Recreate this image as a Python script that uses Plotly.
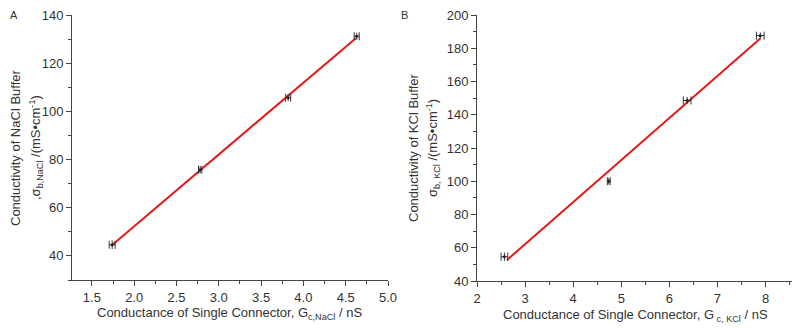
import numpy as np
import plotly.graph_objects as go

# Panel A: NaCl
a_x = [1.74, 2.78, 3.82, 4.63]
a_y = [44.6, 75.8, 105.7, 131.2]
a_xerr = [0.035, 0.02, 0.03, 0.03]
a_yerr = [1.8, 1.5, 1.5, 1.5]
a_fit_x = [1.75, 4.62]

# Panel B: KCl
b_x = [2.57, 4.74, 6.37, 7.89]
b_y = [54.6, 100.0, 148.6, 187.6]
b_xerr = [0.07, 0.03, 0.08, 0.08]
b_yerr = [2.5, 2.0, 2.0, 2.0]
b_fit_x = [2.62, 7.89]

a_fit = np.polyfit(a_x, a_y, 1)
b_fit = np.polyfit(b_x, b_y, 1)

FONT = "Liberation Sans, Arial, sans-serif"
TXT = "#333333"
AX = "#444444"
RED = "#e3191c"

fig = go.Figure()

def add_panel(x, y, xe, ye, fitx, fit, xa, ya):
    fx = np.array(fitx)
    fig.add_trace(go.Scatter(x=fx, y=np.polyval(fit, fx), mode="lines",
                             line=dict(color=RED, width=2), xaxis=xa, yaxis=ya,
                             showlegend=False, hoverinfo="skip"))
    fig.add_trace(go.Scatter(x=x, y=y, mode="markers",
                             marker=dict(color="#222222", size=3),
                             error_x=dict(type="data", array=xe, color="#333333", thickness=1, width=4),
                             error_y=dict(type="data", array=ye, color="#333333", thickness=1, width=0),
                             xaxis=xa, yaxis=ya, showlegend=False))

add_panel(a_x, a_y, a_xerr, a_yerr, a_fit_x, a_fit, "x", "y")
add_panel(b_x, b_y, b_xerr, b_yerr, b_fit_x, b_fit, "x2", "y2")

W, H = 800, 328
def px(x):
    return x / W
def py(y):
    return (H - y) / H
def dx(p0, p1):
    return [px(p0), px(p1)]
def dy(top, bottom):
    return [py(bottom), py(top)]

common = dict(showline=True, linecolor=AX, linewidth=1, ticks="outside", ticklen=5,
              tickcolor=AX, tickwidth=1, showgrid=False, zeroline=False, automargin=False,
              tickfont=dict(family=FONT, size=13, color=TXT), mirror=False)

fig.update_layout(
    width=W, height=H, margin=dict(l=0, r=0, t=0, b=0, autoexpand=False),
    plot_bgcolor="white", paper_bgcolor="white",
    font=dict(family=FONT, color=TXT),
    xaxis=dict(domain=dx(72, 388), range=[1.265, 5.0], dtick=0.5, tickformat=".1f",
               minor=dict(dtick=0.25, ticks="outside", ticklen=3, tickcolor=AX), anchor="y", **common),
    yaxis=dict(domain=dy(15, 280), range=[30, 140.01], dtick=20,
               minor=dict(dtick=10, ticks="outside", ticklen=3, tickcolor=AX), anchor="x", **common),
    xaxis2=dict(domain=dx(477, 792), range=[2, 8.55], dtick=1,
                minor=dict(dtick=0.5, ticks="outside", ticklen=3, tickcolor=AX), anchor="y2", **common),
    yaxis2=dict(domain=dy(15, 281), range=[40, 200.01], dtick=20,
                minor=dict(dtick=10, ticks="outside", ticklen=3, tickcolor=AX), anchor="x2", **common),
)

ann = [
    dict(x=14, y=15, text="A", size=11),
    dict(x=404, y=15, text="B", size=11),
    dict(x=230, y=313, text="Conductance of Single Connector, G<sub>c,NaCl</sub> / nS", size=13),
    dict(x=635, y=315, text="Conductance of Single Connector, G<sub> c, KCl</sub> / nS", size=13),
    dict(x=15, y=148, text="Conductivity of NaCl Buffer", size=13, angle=-90),
    dict(x=36, y=148, text=",σ<sub>b,NaCl</sub> /(mS•cm<sup>-1</sup>)", size=13, angle=-90),
    dict(x=413, y=148, text="Conductivity of KCl Buffer", size=13, angle=-90),
    dict(x=433, y=148, text="σ<sub>b, KCl</sub> /(mS•cm<sup>-1</sup>)", size=13, angle=-90),
]
for a in ann:
    fig.add_annotation(x=px(a["x"]), y=py(a["y"]), xref="paper", yref="paper",
                       text=a["text"], showarrow=False, textangle=a.get("angle", 0),
                       font=dict(family=FONT, size=a["size"], color=TXT),
                       xanchor="center", yanchor="middle", borderpad=0)

fig.write_html("out.html", config={"displayModeBar": False},
               post_script="document.body.style.margin='0';")
